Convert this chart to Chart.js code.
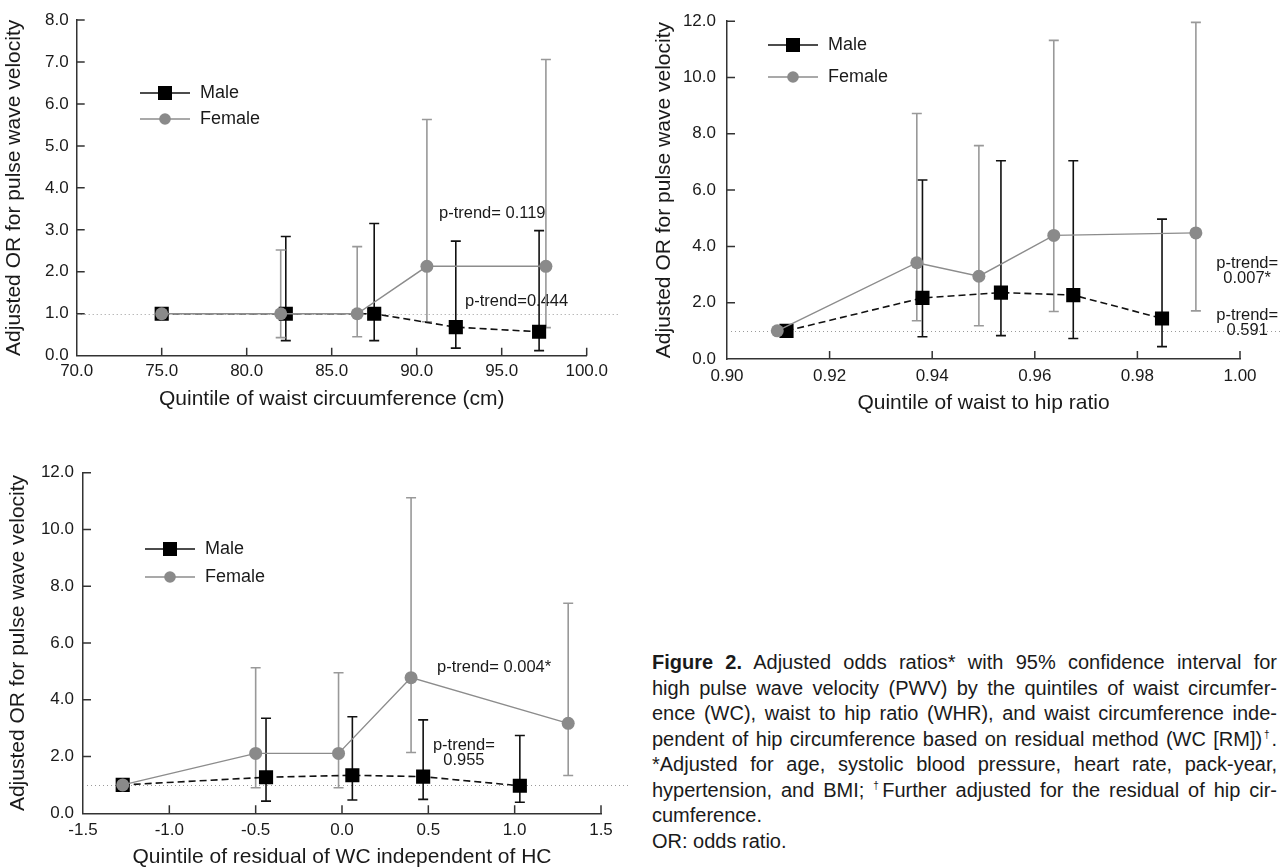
<!DOCTYPE html>
<html>
<head>
<meta charset="utf-8">
<script src="https://cdn.jsdelivr.net/npm/chart.js@4.4.1/dist/chart.umd.min.js"></script>
<style>
  body { margin: 0; background: #fff; width: 1281px; height: 868px; position: relative; overflow: hidden;
         font-family: 'Liberation Sans', Arial, sans-serif; color: #1a1a1a; }
  canvas { position: absolute; }
  #c1 { left: 0; top: 0; }
  #c2 { left: 640px; top: 0; }
  #c3 { left: 0; top: 420px; }
  #caption { position: absolute; left: 652px; top: 650px; width: 625px; font-size: 20px; line-height: 25.5px; }
  #caption div { text-align: justify; text-align-last: justify; }
  #caption div.last { text-align-last: left; }
  .dag { font-size: 10px; position: relative; top: -8px; line-height: 0; }
</style>
</head>
<body>
<canvas id="c1" width="640" height="420"></canvas>
<canvas id="c2" width="641" height="420"></canvas>
<canvas id="c3" width="640" height="448"></canvas>
<div id="caption">
  <div><b>Figure 2.</b> Adjusted odds ratios* with 95% confidence interval for</div>
  <div>high pulse wave velocity (PWV) by the quintiles of waist circumfer-</div>
  <div>ence (WC), waist to hip ratio (WHR), and waist circumference inde-</div>
  <div>pendent of hip circumference based on residual method (WC [RM])<span class="dag">†</span>.</div>
  <div>*Adjusted for age, systolic blood pressure, heart rate, pack-year,</div>
  <div>hypertension, and BMI; <span class="dag">†</span>Further adjusted for the residual of hip cir-</div>
  <div class="last">cumference.</div>
  <div class="last">OR: odds ratio.</div>
</div>
<script>
"use strict"

// panel A: quintiles of waist circumference (cm)
const wcMaleX = [75.0, 82.3, 87.5, 92.3, 97.2];
const wcMaleOR = [1.0, 1.0, 1.0, 0.68, 0.57];
const wcMaleLo = [null, 0.36, 0.36, 0.18, 0.12];
const wcMaleHi = [null, 2.84, 3.15, 2.73, 2.98];
const wcFemaleX = [75.0, 82.0, 86.5, 90.6, 97.6];
const wcFemaleOR = [1.0, 1.0, 1.0, 2.13, 2.13];
const wcFemaleLo = [null, 0.43, 0.45, 0.81, 0.67];
const wcFemaleHi = [null, 2.52, 2.60, 5.63, 7.06];

// panel B: quintiles of waist to hip ratio
const whrMaleX = [0.9116, 0.9381, 0.9534, 0.9675, 0.9848];
const whrMaleOR = [1.0, 2.17, 2.36, 2.27, 1.44];
const whrMaleLo = [null, 0.79, 0.83, 0.73, 0.44];
const whrMaleHi = [null, 6.36, 7.04, 7.04, 4.97];
const whrFemaleX = [0.9098, 0.9370, 0.9491, 0.9637, 0.9914];
const whrFemaleOR = [1.0, 3.42, 2.94, 4.39, 4.48];
const whrFemaleLo = [null, 1.36, 1.18, 1.69, 1.71];
const whrFemaleHi = [null, 8.72, 7.58, 11.32, 11.96];

// panel C: quintiles of residual of WC independent of HC
const rmMaleX = [-1.27, -0.44, 0.06, 0.47, 1.03];
const rmMaleOR = [1.0, 1.27, 1.34, 1.29, 0.97];
const rmMaleLo = [null, 0.43, 0.47, 0.49, 0.39];
const rmMaleHi = [null, 3.35, 3.40, 3.29, 2.74];
const rmFemaleX = [-1.27, -0.50, -0.02, 0.40, 1.31];
const rmFemaleOR = [1.0, 2.11, 2.11, 4.78, 3.17];
const rmFemaleLo = [null, 0.90, 0.90, 2.14, 1.33];
const rmFemaleHi = [null, 5.13, 4.95, 11.12, 7.40];

const seriesLabels = ['Male', 'Female'];
const yTitle = 'Adjusted OR for pulse wave velocity';

Chart.defaults.font.family = "'Liberation Sans', Arial, sans-serif";
Chart.defaults.color = '#1a1a1a';

const TXT = '#1a1a1a';
const GRAY = '#8a8a8a';

function pts(xs, ys) {
    return xs.map((x, i) => ({ x: x, y: ys[i] }));
}

function makeChart(id, cfg) {
    const fig = {
        id: 'fig',
        beforeDatasetsDraw(chart) {
            const ctx = chart.ctx, xs = chart.scales.x, ys = chart.scales.y, area = chart.chartArea;
            // reference line at OR = 1
            ctx.save();
            ctx.strokeStyle = '#9a9a9a';
            ctx.lineWidth = 1;
            ctx.setLineDash([1, 3]);
            const ry = Math.round(ys.getPixelForValue(1)) + 0.5;
            ctx.beginPath();
            ctx.moveTo(area.left, ry);
            ctx.lineTo(cfg.refEnd, ry);
            ctx.stroke();
            ctx.restore();

            // p-trend notes
            ctx.save();
            ctx.fillStyle = TXT;
            ctx.font = "16.5px 'Liberation Sans', Arial, sans-serif";
            ctx.textBaseline = 'middle';
            cfg.notes.forEach(n => {
                const px = xs.getPixelForValue(n.x), py = ys.getPixelForValue(n.y);
                ctx.textAlign = n.align;
                n.lines.forEach((t, i) => {
                    ctx.fillText(t, px, py + (i - (n.lines.length - 1) / 2) * 15);
                });
            });
            ctx.restore();

            // error bars
            chart.data.datasets.forEach(ds => {
                ctx.save();
                ctx.strokeStyle = ds.barColor;
                ctx.lineWidth = 1.6;
                ds.data.forEach((p, i) => {
                    if (ds.lo[i] == null) return;
                    const px = xs.getPixelForValue(p.x);
                    const y0 = ys.getPixelForValue(ds.lo[i]), y1 = ys.getPixelForValue(ds.hi[i]);
                    ctx.beginPath();
                    ctx.moveTo(px, y0); ctx.lineTo(px, y1);
                    ctx.moveTo(px - 5, y0); ctx.lineTo(px + 5, y0);
                    ctx.moveTo(px - 5, y1); ctx.lineTo(px + 5, y1);
                    ctx.stroke();
                });
                ctx.restore();
            });
        },
        afterDraw(chart) {
            const ctx = chart.ctx, xs = chart.scales.x, ys = chart.scales.y, area = chart.chartArea;
            // inward tick marks
            ctx.save();
            ctx.strokeStyle = '#333';
            ctx.lineWidth = 1.5;
            ctx.beginPath();
            ys.ticks.forEach(t => {
                const py = ys.getPixelForValue(t.value);
                if (Math.abs(py - area.bottom) < 1) return;
                ctx.moveTo(area.left, py); ctx.lineTo(area.left + 8, py);
            });
            xs.ticks.forEach(t => {
                const px = xs.getPixelForValue(t.value);
                if (Math.abs(px - area.left) < 1) return;
                ctx.moveTo(px, area.bottom); ctx.lineTo(px, area.bottom - 8);
            });
            ctx.stroke();
            ctx.restore();

            // legend: line, marker, label
            ctx.save();
            ctx.font = "18px 'Liberation Sans', Arial, sans-serif";
            ctx.textBaseline = 'middle';
            ctx.textAlign = 'left';
            chart.data.datasets.forEach((ds, i) => {
                const lx = cfg.legend.x, ly = cfg.legend.y + i * cfg.legend.gap;
                ctx.strokeStyle = ds.borderColor;
                ctx.lineWidth = 1.6;
                ctx.beginPath();
                ctx.moveTo(lx, ly); ctx.lineTo(lx + 50, ly);
                ctx.stroke();
                ctx.fillStyle = ds.pointBackgroundColor;
                if (ds.pointStyle === 'rect') {
                    ctx.fillRect(lx + 25 - 7, ly - 7, 14, 14);
                } else {
                    ctx.beginPath();
                    ctx.arc(lx + 25, ly, 5.8, 0, Math.PI * 2);
                    ctx.fill();
                }
                ctx.fillStyle = TXT;
                ctx.fillText(ds.label, lx + 60, ly);
            });
            ctx.restore();
        }
    };

    return new Chart(document.getElementById(id), {
        type: 'line',
        data: {
            datasets: [
                {
                    label: seriesLabels[0],
                    data: pts(cfg.maleX, cfg.maleOR),
                    lo: cfg.maleLo,
                    hi: cfg.maleHi,
                    barColor: '#111',
                    borderColor: '#111',
                    borderWidth: 1.6,
                    borderDash: [7, 4],
                    pointStyle: 'rect',
                    pointRadius: 10,
                    pointBorderWidth: 0,
                    pointBackgroundColor: '#000',
                    order: 1
                },
                {
                    label: seriesLabels[1],
                    data: pts(cfg.femaleX, cfg.femaleOR),
                    lo: cfg.femaleLo,
                    hi: cfg.femaleHi,
                    barColor: '#999',
                    borderColor: '#8c8c8c',
                    borderWidth: 1.4,
                    pointStyle: 'circle',
                    pointRadius: 6.5,
                    pointBorderWidth: 0,
                    pointBackgroundColor: GRAY,
                    order: 0
                }
            ]
        },
        options: {
            responsive: false,
            animation: false,
            layout: { padding: cfg.pad },
            plugins: {
                legend: { display: false },
                tooltip: { enabled: false }
            },
            scales: {
                x: {
                    type: 'linear',
                    min: cfg.xMin,
                    max: cfg.xMax,
                    grid: { display: false, drawTicks: false },
                    border: { color: '#333', width: 1.5 },
                    ticks: {
                        stepSize: cfg.xStep,
                        autoSkip: false,
                        maxRotation: 0,
                        padding: cfg.xPad,
                        color: TXT,
                        font: { size: 17 },
                        callback: v => v.toFixed(cfg.xDec)
                    },
                    title: {
                        display: true,
                        text: cfg.xTitle,
                        color: TXT,
                        font: { size: 21, lineHeight: 1 },
                        padding: { top: 0, bottom: cfg.xTitlePad }
                    },
                    afterFit: s => { s.height = cfg.xH; }
                },
                y: {
                    min: 0,
                    max: cfg.yMax,
                    grid: { display: false, drawTicks: false },
                    border: { color: '#333', width: 1.5 },
                    ticks: {
                        stepSize: cfg.yStep,
                        padding: cfg.yPad,
                        color: TXT,
                        font: { size: 17 },
                        callback: v => v.toFixed(1)
                    },
                    title: {
                        display: true,
                        text: yTitle,
                        color: TXT,
                        font: { size: 21, lineHeight: 1 },
                        padding: { top: cfg.yTitlePad, bottom: 0 }
                    },
                    afterFit: s => { s.width = cfg.yW; }
                }
            }
        },
        plugins: [fig]
    });
}

makeChart('c1', {
    maleX: wcMaleX, maleOR: wcMaleOR, maleLo: wcMaleLo, maleHi: wcMaleHi,
    femaleX: wcFemaleX, femaleOR: wcFemaleOR, femaleLo: wcFemaleLo, femaleHi: wcFemaleHi,
    xMin: 70, xMax: 100, xStep: 5, xDec: 1, yMax: 8, yStep: 1,
    xTitle: 'Quintile of waist circuumference (cm)',
    pad: { left: 0, right: 53.3, top: 20, bottom: 0 },
    yW: 76.7, xH: 64.3, xPad: 5, yPad: 8, xTitlePad: 10.5, yTitlePad: 4,
    refEnd: 620,
    legend: { x: 140, y: 93, gap: 26 },
    notes: [
        { x: 91.31, y: 3.40, lines: ['p-trend= 0.119'], align: 'left' },
        { x: 92.84, y: 1.30, lines: ['p-trend=0.444'], align: 'left' }
    ]
});

makeChart('c2', {
    maleX: whrMaleX, maleOR: whrMaleOR, maleLo: whrMaleLo, maleHi: whrMaleHi,
    femaleX: whrFemaleX, femaleOR: whrFemaleOR, femaleLo: whrFemaleLo, femaleHi: whrFemaleHi,
    xMin: 0.90, xMax: 1.00, xStep: 0.02, xDec: 2, yMax: 12, yStep: 2,
    xTitle: 'Quintile of waist to hip ratio',
    pad: { left: 0, right: 41, top: 20, bottom: 0 },
    yW: 87, xH: 61, xPad: 7, yPad: 11, xTitlePad: 6.5, yTitlePad: 14,
    refEnd: 640,
    legend: { x: 128, y: 45, gap: 32 },
    notes: [
        { x: 1.0014, y: 3.13, lines: ['p-trend=', '0.007*'], align: 'center' },
        { x: 1.0014, y: 1.27, lines: ['p-trend=', '0.591'], align: 'center' }
    ]
});

makeChart('c3', {
    maleX: rmMaleX, maleOR: rmMaleOR, maleLo: rmMaleLo, maleHi: rmMaleHi,
    femaleX: rmFemaleX, femaleOR: rmFemaleOR, femaleLo: rmFemaleLo, femaleHi: rmFemaleHi,
    xMin: -1.5, xMax: 1.5, xStep: 0.5, xDec: 1, yMax: 12, yStep: 2,
    xTitle: 'Quintile of residual of WC independent of HC',
    pad: { left: 0, right: 39, top: 52.7, bottom: 0 },
    yW: 83, xH: 54.7, xPad: 7, yPad: 9, xTitlePad: 0, yTitlePad: 7.5,
    refEnd: 628,
    legend: { x: 145, y: 129, gap: 28 },
    notes: [
        { x: 0.55, y: 5.15, lines: ['p-trend= 0.004*'], align: 'left' },
        { x: 0.706, y: 2.12, lines: ['p-trend=', '0.955'], align: 'center' }
    ]
});
</script>
</body>
</html>
